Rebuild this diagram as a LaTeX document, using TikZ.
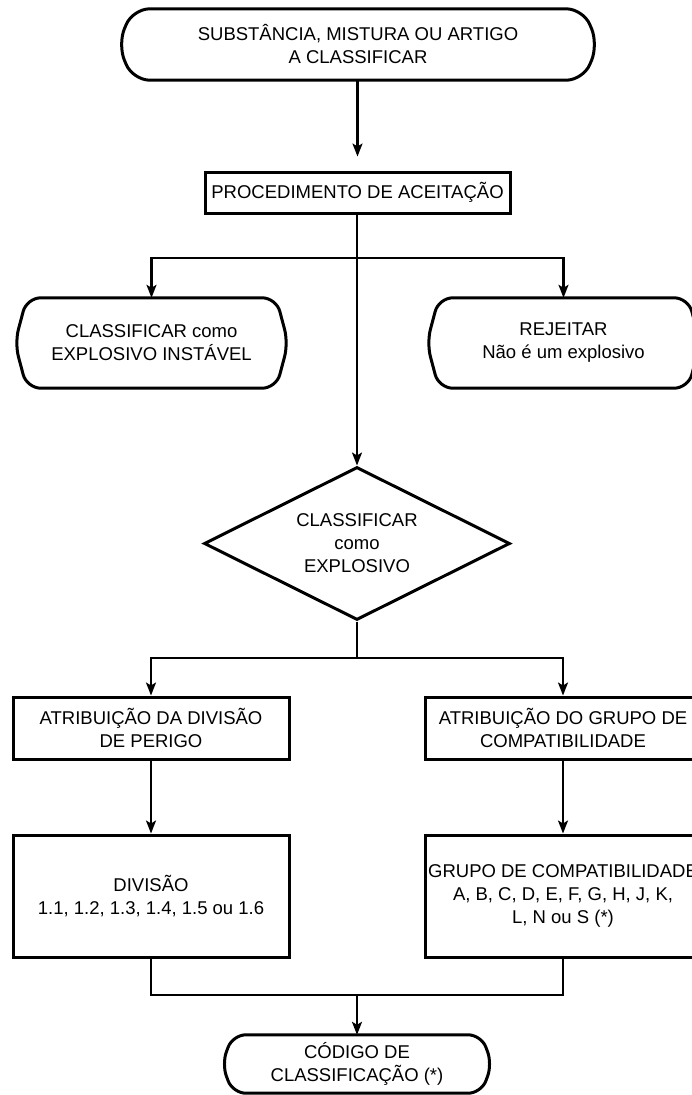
\documentclass[tikz,border=0pt]{standalone}
\usepackage{fontspec}
\setmainfont{Liberation Sans}
\usetikzlibrary{arrows.meta,shapes.geometric,calc}
\newcommand\termoutline[3]{%
  \draw[outline, rounded corners=#3] ([xshift=#2]#1.north west) -- ([xshift=-#2]#1.north east) -- (#1.east)
    -- ([xshift=-#2]#1.south east) -- ([xshift=#2]#1.south west) -- (#1.west) -- cycle;}
\begin{document}
\begin{tikzpicture}[x=1pt,y=-1pt,
  lbl/.style={inner sep=0pt, align=center, font=\fontsize{18.5pt}{23pt}\selectfont},
  boxnode/.style={lbl, draw, line width=3pt, rectangle},
  termnode/.style={lbl, rectangle},
  outline/.style={line width=3pt},
  conn/.style={line width=2.2pt},
  arr/.style={conn, -{Stealth[length=13pt,width=10pt,inset=3pt]}}]
\useasboundingbox (0,0) rectangle (692,1095);
\clip (0,0) rectangle (692,1095);
\fill[white] (0,0) rectangle (692,1095);

\node[termnode, minimum width=480pt, minimum height=71pt] (start) at (358,44.5)
  {SUBSTÂNCIA, MISTURA OU ARTIGO\\A CLASSIFICAR};
\node[boxnode, minimum width=305pt, minimum height=41pt] (proc) at (357.5,192.5)
  {PROCEDIMENTO DE ACEITAÇÃO};
\node[termnode, minimum width=273pt, minimum height=90pt] (unst) at (151.5,343)
  {CLASSIFICAR como\\EXPLOSIVO INSTÁVEL};
\node[termnode, minimum width=273pt, minimum height=90pt] (rej) at (563.5,343)
  {REJEITAR\\Não é um explosivo};
\node[lbl, draw, line width=3pt, shape=diamond, aspect=2, minimum width=306pt, minimum height=153pt] (dia) at (357,543.5)
  {CLASSIFICAR\\como\\EXPLOSIVO};
\node[boxnode, minimum width=276pt, minimum height=62pt] (atd) at (151,728)
  {ATRIBUIÇÃO DA DIVISÃO\\DE PERIGO};
\node[boxnode, minimum width=276pt, minimum height=62pt] (atg) at (563,728)
  {ATRIBUIÇÃO DO GRUPO DE\\COMPATIBILIDADE};
\node[boxnode, minimum width=276pt, minimum height=122pt] (div) at (151,896)
  {DIVISÃO\\1.1, 1.2, 1.3, 1.4, 1.5 ou 1.6};
\node[boxnode, minimum width=276pt, minimum height=122pt] (grp) at (563,896)
  {GRUPO DE COMPATIBILIDADE\\A, B, C, D, E, F, G, H, J, K,\\L, N ou S (*)};
\node[termnode, minimum width=270pt, minimum height=58pt] (code) at (357,1064)
  {CÓDIGO DE\\CLASSIFICAÇÃO (*)};

\termoutline{start}{15pt}{17pt}
\termoutline{unst}{12pt}{14pt}
\termoutline{rej}{12pt}{14pt}
\termoutline{code}{11pt}{13pt}

\coordinate (j1) at (357,258);
\coordinate (j2) at (357,658);
\coordinate (j3) at (357,995);

\draw[arr, shorten >=14pt] (start.south -| proc.north) -- (proc.north);
\draw[arr] (proc.south -| dia.north) -- (dia.north);
\draw[arr] (j1) -| (unst.north);
\draw[arr] (j1) -| (rej.north);
\draw[conn] (dia.south) -- (j2);
\draw[arr] (j2) -| (atd.north);
\draw[arr] (j2) -| (atg.north);
\draw[arr] (atd.south) -- (div.north);
\draw[arr] (atg.south) -- (grp.north);
\draw[conn] (div.south) |- (j3);
\draw[conn] (grp.south) |- (j3);
\draw[arr] (j3) -- (code.north);
\end{tikzpicture}
\end{document}
